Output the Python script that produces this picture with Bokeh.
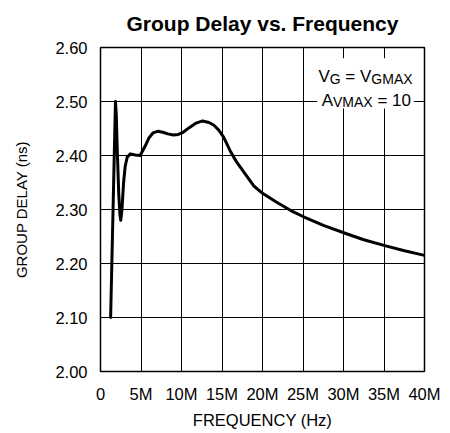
from bokeh.plotting import figure
from bokeh.models import Range1d, FixedTicker, Label, ColumnDataSource
from bokeh.embed import file_html
from bokeh.resources import INLINE

# ---- data ----
freq_mhz = [1.25, 1.55, 1.75, 1.85, 1.95, 2.05, 2.25, 2.4, 2.5, 2.65, 2.85, 3.05,
            3.3, 3.7, 4.3, 4.9, 5.5, 6.0, 6.5, 7.1, 7.7, 8.3, 9.0, 9.6, 10.2,
            11.0, 11.8, 12.6, 13.4, 14.0, 14.6, 15.2, 16.0, 16.8, 17.7, 18.9,
            20.0, 21.8, 23.5, 25.0, 27.6, 30.2, 32.5, 35.1, 37.4, 40.0]
delay_ns = [2.10, 2.30, 2.435, 2.50, 2.475, 2.42, 2.33, 2.29, 2.28, 2.30, 2.35, 2.38,
            2.397, 2.403, 2.401, 2.400, 2.417, 2.433, 2.442, 2.445, 2.443, 2.440,
            2.438, 2.439, 2.443, 2.452, 2.460, 2.464, 2.461, 2.456, 2.447, 2.434,
            2.409, 2.388, 2.369, 2.344, 2.330, 2.313, 2.298, 2.287, 2.270, 2.256,
            2.244, 2.233, 2.224, 2.215]

x_ticks = [0, 5, 10, 15, 20, 25, 30, 35, 40]
x_tick_labels = ["0", "5M", "10M", "15M", "20M", "25M", "30M", "35M", "40M"]
y_ticks = [2.0, 2.1, 2.2, 2.3, 2.4, 2.5, 2.6]
y_tick_labels = ["2.00", "2.10", "2.20", "2.30", "2.40", "2.50", "2.60"]

title_text = "Group Delay vs. Frequency"
x_label_text = "FREQUENCY (Hz)"
y_label_text = "GROUP DELAY (ns)"

FONT = "Liberation Sans"

p = figure(width=450, height=433,
           x_range=Range1d(0, 40), y_range=Range1d(2.0, 2.6),
           output_backend="svg", toolbar_location=None,
           min_border_left=100, min_border_right=26,
           min_border_top=47, min_border_bottom=62,
           title=title_text, x_axis_label=x_label_text,
           y_axis_label=y_label_text)

p.background_fill_color = "white"
p.border_fill_color = "white"
p.outline_line_color = "black"
p.outline_line_width = 1.5

# title
p.title.text_font = FONT
p.title.text_font_size = "21px"
p.title.text_font_style = "bold"
p.title.text_color = "black"
p.title.align = "center"
p.title.vertical_align = "top"
p.title.standoff = 22

# axes
for ax in (p.xaxis[0], p.yaxis[0]):
    ax.axis_line_color = None
    ax.major_tick_line_color = None
    ax.minor_tick_line_color = None
    ax.major_tick_out = 0
    ax.major_tick_in = 0
    ax.minor_tick_out = 0
    ax.minor_tick_in = 0
    ax.major_label_text_font = FONT
    ax.major_label_text_font_size = "16.5px"
    ax.major_label_text_color = "black"
    ax.axis_label_text_font = FONT
    ax.axis_label_text_font_style = "normal"
    ax.axis_label_text_color = "black"

p.xaxis.ticker = FixedTicker(ticks=x_ticks)
p.xaxis.major_label_overrides = dict(zip(x_ticks, x_tick_labels))
p.xaxis.major_label_standoff = 13
p.xaxis.axis_label_standoff = 5
p.xaxis.axis_label_text_font_size = "16.5px"

p.yaxis.ticker = FixedTicker(ticks=y_ticks)
p.yaxis.major_label_overrides = dict(zip(y_ticks, y_tick_labels))
p.yaxis.major_label_standoff = 13
p.yaxis.axis_label_standoff = 22
p.yaxis.axis_label_text_font_size = "15px"

# grid
p.xgrid.ticker = FixedTicker(ticks=x_ticks)
p.ygrid.ticker = FixedTicker(ticks=y_ticks)
for g in (p.xgrid[0], p.ygrid[0]):
    g.grid_line_color = "black"
    g.grid_line_alpha = 1.0
    g.grid_line_width = 1

# white box behind the annotation
p.quad(left=[26.75], right=[38.68], bottom=[2.487], top=[2.5802],
       fill_color="white", line_color=None)

# curve
src = ColumnDataSource(dict(freq=freq_mhz, delay=delay_ns))
p.line(x="freq", y="delay", source=src, line_color="black", line_width=3,
       line_join="round", line_cap="round")

# annotation: V_G = V_GMAX / A_VMAX = 10
MAIN = "17px"
SUB = "14px"

def piece(x, y, dx, txt, size, dy=0):
    p.add_layout(Label(x=x, y=y, x_offset=dx, y_offset=dy, text=txt,
                       text_font=FONT, text_font_size=size, text_color="black",
                       text_align="left", text_baseline="alphabetic"))

x1, y1 = 26.9, 2.5454
piece(x1, y1, 0, "V", MAIN)
piece(x1, y1, 11.34, "G", SUB, -2)
piece(x1, y1, 26.96, "= V", MAIN)
piece(x1, y1, 52.95, "GMAX", SUB, -2)

x2, y2 = 27.3, 2.5019
piece(x2, y2, 0, "A", MAIN)
piece(x2, y2, 11.34, "VMAX", SUB, -2)
piece(x2, y2, 55.75, "= 10", MAIN)

open("out.html", "w").write(file_html(p, INLINE))
